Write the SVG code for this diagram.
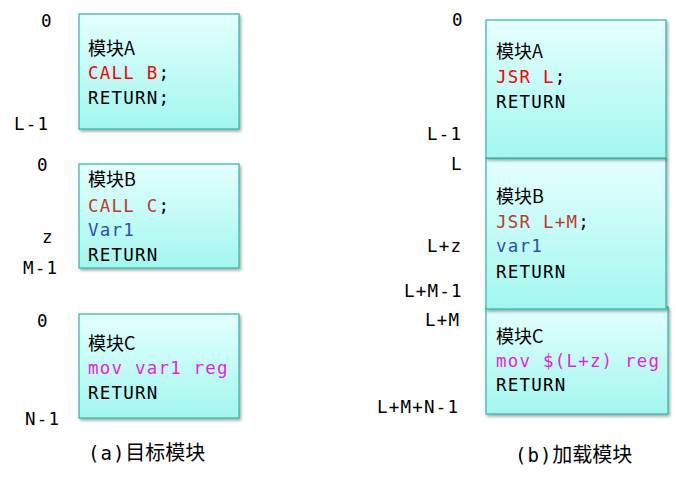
<svg xmlns="http://www.w3.org/2000/svg" width="676" height="477" viewBox="0 0 676 477">
<defs>
<linearGradient id="g" x1="0" y1="0" x2="0" y2="1">
<stop offset="0" stop-color="#E4FFFD"/>
<stop offset="1" stop-color="#A2F7EF"/>
</linearGradient>
<filter id="sh" x="-10%" y="-10%" width="130%" height="130%">
<feDropShadow dx="1.5" dy="2" stdDeviation="1.5" flood-color="#000" flood-opacity="0.35"/>
</filter>
</defs>
<style>
.box{fill:url(#g);stroke:#2BB5A8;stroke-width:1.2;filter:url(#sh)}
.m{font-family:"DejaVu Sans Mono","Liberation Mono",monospace;font-size:17.5px;letter-spacing:1.2px;fill:#000}
.c{font-family:"Noto Sans CJK SC",sans-serif;font-size:18px;fill:#000}
.cap{font-family:"DejaVu Sans Mono","Noto Sans CJK SC",monospace;font-size:19px;letter-spacing:1px;fill:#000}
.cc{font-family:"Noto Sans CJK SC",sans-serif;font-size:20px;letter-spacing:0}
.red{fill:#FF0000}
.dred{fill:#C0392B}
.blue{fill:#2F50A8}
.mag{fill:#E61EE6}
</style>
<g id="connectors"/>
<g id="leftA">
<rect class="box" x="79" y="14" width="160" height="115"/>
<text class="c" x="88" y="55">模块A</text>
<text class="m red" x="88" y="79">CALL B<tspan fill="#000">;</tspan></text>
<text class="m" x="88" y="104">RETURN;</text>
</g>
<g id="leftB">
<rect class="box" x="79" y="164" width="160" height="104"/>
<text class="c" x="88" y="186">模块B</text>
<text class="m dred" x="88" y="212">CALL C<tspan fill="#000">;</tspan></text>
<text class="m blue" x="88" y="236">Var1</text>
<text class="m" x="88" y="261">RETURN</text>
</g>
<g id="leftC">
<rect class="box" x="79" y="314" width="160" height="104"/>
<text class="c" x="88" y="350">模块C</text>
<text class="m mag" x="88" y="374">mov var1 reg</text>
<text class="m" x="88" y="399">RETURN</text>
</g>
<g id="leftLabels">
<text class="m" x="41" y="27">0</text>
<text class="m" x="14" y="130">L-1</text>
<text class="m" x="37" y="171">0</text>
<text class="m" x="42" y="243">z</text>
<text class="m" x="23" y="274">M-1</text>
<text class="m" x="37" y="327">0</text>
<text class="m" x="25" y="425">N-1</text>
<text class="cap" x="88" y="460">(a)<tspan class="cc">目标模块</tspan></text>
</g>
<g id="rightC">
<rect class="box" x="486" y="307" width="182" height="107"/>
<text class="c" x="496" y="343">模块C</text>
<text class="m mag" x="496" y="367">mov $(L+z) reg</text>
<text class="m" x="496" y="391">RETURN</text>
</g>
<g id="rightB">
<rect class="box" x="486" y="158" width="180" height="151"/>
<text class="c" x="496" y="203">模块B</text>
<text class="m dred" x="496" y="228">JSR L+M<tspan fill="#000">;</tspan></text>
<text class="m blue" x="496" y="252">var1</text>
<text class="m" x="496" y="278">RETURN</text>
</g>
<g id="rightA">
<rect class="box" x="486" y="20" width="180" height="138"/>
<text class="c" x="496" y="58">模块A</text>
<text class="m red" x="496" y="83">JSR L<tspan fill="#000">;</tspan></text>
<text class="m" x="496" y="108">RETURN</text>
</g>
<g id="rightLabels">
<text class="m" x="452" y="26">0</text>
<text class="m" x="427" y="140">L-1</text>
<text class="m" x="451" y="170">L</text>
<text class="m" x="427" y="252">L+z</text>
<text class="m" x="404" y="297">L+M-1</text>
<text class="m" x="425" y="326">L+M</text>
<text class="m" x="377" y="413">L+M+N-1</text>
<text class="cap" x="515" y="462">(b)<tspan class="cc">加载模块</tspan></text>
</g>
</svg>
